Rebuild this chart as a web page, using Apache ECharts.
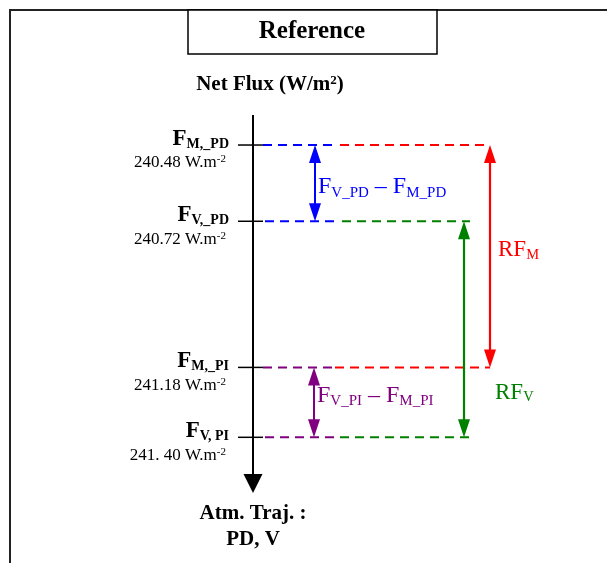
<!DOCTYPE html>
<html>
<head>
<meta charset="utf-8">
<script src="https://cdn.jsdelivr.net/npm/echarts@6/dist/echarts.min.js"></script>
<style>html,body{margin:0;padding:0;background:#fff}#c{width:607px;height:563px}</style>
</head>
<body>
<div id="c"></div>
<script>
// ---------------- data ----------------
const levelValues = [240.48, 240.72, 241.18, 241.40];          // net flux (W/m2)
const levelSubscripts = ['M,_PD', 'V,_PD', 'M,_PI', 'V, PI'];
const levelValueLabels = ['240.48', '240.72', '241.18', '241. 40'];
const unitLabel = 'W.m';
const unitExponent = '-2';
const diffFromLevel = [0, 2];
const diffToLevel = [1, 3];
const diffMinuend = ['V_PD', 'V_PI'];
const diffSubtrahend = ['M_PD', 'M_PI'];
const rfFromLevel = [0, 1];
const rfToLevel = [2, 3];
const rfSubscripts = ['M', 'V'];
const titleText = 'Reference';
const axisTitleMain = 'Net Flux (W/m';
const axisTitleSup = '2';
const axisEndLines = ['Atm. Traj. :', 'PD, V'];

// ---------------- layout / style ----------------
const SERIF = '"Liberation Serif","Times New Roman",serif';
const AXIS_PX = 253;
const Y_MIN = 240.3855, Y_MAX = 241.5753;
const COL = {blue: '#0000ff', red: '#ff0000', green: '#008000', purple: '#800080', black: '#000'};
const LEVEL_STYLE = [
  {segs: [[10, 80, COL.blue], [87, 237, COL.red]]},
  {segs: [[12, 86, COL.blue], [89, 217, COL.green]]},
  {segs: [[10, 80, COL.purple], [82, 237, COL.red]]},
  {segs: [[12, 84, COL.purple], [87, 217, COL.green]]}
];
const DIFF_STYLE = [
  {x: 62, color: COL.blue, labelX: 65, dy: 4},
  {x: 61, color: COL.purple, labelX: 64, dy: -7}
];
const RF_STYLE = [
  {x: 237, color: COL.red, labelX: 245, frac: 0.5, dy: -6},
  {x: 211, color: COL.green, labelX: 242, frac: 0.79, dy: 1}
];
const DASH = [9, 6];

function txt(x, y, style) {
  return {type: 'text', x: x, y: y, style: Object.assign({align: 'left', verticalAlign: 'middle'}, style)};
}
function vArrow(x, y1, y2, color, headW, headL, lw) {
  const dir = y2 > y1 ? 1 : -1;
  return [
    {type: 'line', shape: {x1: x, y1: y1 + dir * headL * 0.8, x2: x, y2: y2 - dir * headL * 0.8}, style: {stroke: color, lineWidth: lw}},
    {type: 'polygon', shape: {points: [[x, y1], [x - headW / 2, y1 + dir * headL], [x + headW / 2, y1 + dir * headL]]}, style: {fill: color}},
    {type: 'polygon', shape: {points: [[x, y2], [x - headW / 2, y2 - dir * headL], [x + headW / 2, y2 - dir * headL]]}, style: {fill: color}}
  ];
}

function renderLevel(params, api) {
  const i = api.value(0), v = api.value(1);
  const st = LEVEL_STYLE[i];
  const y = api.coord([0, v])[1];
  const X = (dx) => api.coord([dx, v])[0];
  const children = [];
  st.segs.forEach(s => children.push({type: 'line', shape: {x1: X(s[0]), y1: y, x2: X(s[1]), y2: y},
    style: {stroke: s[2], lineWidth: 2, lineDash: DASH}}));
  children.push({type: 'line', shape: {x1: X(-15), y1: y, x2: X(10), y2: y}, style: {stroke: COL.black, lineWidth: 1.5}});
  children.push(txt(X(-24), y - 6, {
    text: '{F|F}{s|' + levelSubscripts[i] + '}', align: 'right',
    rich: {F: {font: 'bold 23px ' + SERIF, fill: COL.black, lineHeight: 24},
           s: {font: 'bold 14px ' + SERIF, fill: COL.black, lineHeight: 10, verticalAlign: 'bottom'}}
  }));
  children.push(txt(X(-27), y + 18, {
    text: '{n|' + levelValueLabels[i] + ' ' + unitLabel + '}{e|' + unitExponent + '}', align: 'right',
    rich: {n: {font: '17px ' + SERIF, fill: COL.black, lineHeight: 18},
           e: {font: '11px ' + SERIF, fill: COL.black, lineHeight: 12, verticalAlign: 'top'}}
  }));
  return {type: 'group', children: children};
}

function renderDiff(params, api) {
  const k = api.value(0), v1 = api.value(1), v2 = api.value(2);
  const st = DIFF_STYLE[k];
  const p1 = api.coord([st.x, v1]), p2 = api.coord([st.x, v2]);
  const children = vArrow(p1[0], p1[1], p2[1], st.color, 12, 18, 2);
  const lx = api.coord([st.labelX, v1])[0];
  children.push(txt(lx, (p1[1] + p2[1]) / 2 + st.dy, {
    text: '{F|F}{s|' + diffMinuend[k] + '}{d| – }{F|F}{s|' + diffSubtrahend[k] + '}',
    rich: {F: {font: '24px ' + SERIF, fill: st.color, lineHeight: 26},
           d: {font: '24px ' + SERIF, fill: st.color, lineHeight: 26},
           s: {font: '15px ' + SERIF, fill: st.color, lineHeight: 16, verticalAlign: 'bottom'}}
  }));
  return {type: 'group', children: children};
}

function renderRF(params, api) {
  const k = api.value(0), v1 = api.value(1), v2 = api.value(2);
  const st = RF_STYLE[k];
  const p1 = api.coord([st.x, v1]), p2 = api.coord([st.x, v2]);
  const children = vArrow(p1[0], p1[1], p2[1], st.color, 12, 18, 2.2);
  const lx = api.coord([st.labelX, v1])[0];
  children.push(txt(lx, p1[1] + (p2[1] - p1[1]) * st.frac + st.dy, {
    text: '{R|RF}{s|' + rfSubscripts[k] + '}',
    rich: {R: {font: '23px ' + SERIF, fill: st.color, lineHeight: 24},
           s: {font: '14.5px ' + SERIF, fill: st.color, lineHeight: 12, verticalAlign: 'bottom'}}
  }));
  return {type: 'group', children: children};
}

function renderAxis(params, api) {
  const cs = params.coordSys;
  const x = api.coord([0, Y_MIN])[0];
  const top = cs.y, bottom = cs.y + cs.height;
  return {type: 'group', children: [
    {type: 'line', shape: {x1: x, y1: top, x2: x, y2: bottom - 15}, style: {stroke: COL.black, lineWidth: 2}},
    {type: 'polygon', shape: {points: [[x, bottom], [x - 9.5, bottom - 19], [x + 9.5, bottom - 19]]}, style: {fill: COL.black}}
  ]};
}

const chart = echarts.init(document.getElementById('c'), null, {renderer: 'canvas'});
chart.setOption({
  animation: false,
  backgroundColor: '#fff',
  grid: {left: 0, right: 0, top: 115, bottom: 70},
  xAxis: {type: 'value', min: -AXIS_PX, max: 607 - AXIS_PX, show: false},
  yAxis: {type: 'value', min: Y_MIN, max: Y_MAX, inverse: true, show: false},
  graphic: [
    {type: 'polyline', shape: {points: [[10, 580], [10, 10], [620, 10]]}, style: {stroke: '#222', lineWidth: 2, fill: null}, z: 1},
    {type: 'rect', shape: {x: 188, y: 10, width: 249, height: 44}, style: {fill: '#fff', stroke: '#000', lineWidth: 1.5}, z: 2},
    {type: 'text', x: 312, y: 32, z: 3, style: {text: titleText, font: 'bold 25px ' + SERIF, fill: '#000', align: 'center', verticalAlign: 'middle', textAlign: 'center', textVerticalAlign: 'middle'}},
    {type: 'text', x: 270, y: 85, z: 3, style: {text: '{m|' + axisTitleMain + '}{e|' + axisTitleSup + '}{m|)}', align: 'center', verticalAlign: 'middle',
      rich: {m: {font: 'bold 21px ' + SERIF, fill: '#000', lineHeight: 22}, e: {font: 'bold 13px ' + SERIF, fill: '#000', lineHeight: 12, verticalAlign: 'top'}}}},
    {type: 'text', x: 253, y: 514, z: 3, style: {text: axisEndLines[0], font: 'bold 21px ' + SERIF, fill: '#000', align: 'center', verticalAlign: 'middle', textAlign: 'center', textVerticalAlign: 'middle'}},
    {type: 'text', x: 253, y: 540, z: 3, style: {text: axisEndLines[1], font: 'bold 21px ' + SERIF, fill: '#000', align: 'center', verticalAlign: 'middle', textAlign: 'center', textVerticalAlign: 'middle'}}
  ],
  series: [
    {type: 'custom', name: 'axis', renderItem: renderAxis, data: [[0, Y_MIN]], silent: true, z: 2},
    {type: 'custom', name: 'levels', renderItem: renderLevel, data: levelValues.map((v, i) => [i, v]), silent: true, z: 3},
    {type: 'custom', name: 'differences', renderItem: renderDiff,
      data: diffFromLevel.map((f, k) => [k, levelValues[f], levelValues[diffToLevel[k]]]), silent: true, z: 4},
    {type: 'custom', name: 'RF', renderItem: renderRF,
      data: rfFromLevel.map((f, k) => [k, levelValues[f], levelValues[rfToLevel[k]]]), silent: true, z: 4}
  ]
});
</script>
</body>
</html>
